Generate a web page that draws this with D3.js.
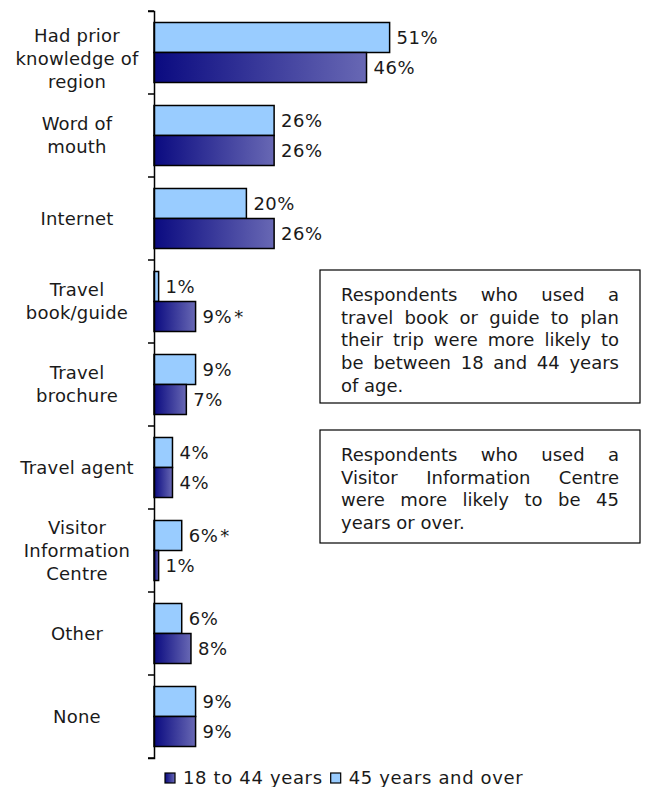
<!DOCTYPE html>
<html>
<head>
<meta charset="utf-8">
<script src="https://cdn.jsdelivr.net/npm/d3@7"></script>
<style>
  html, body { margin: 0; padding: 0; background: #fff; }
  svg { display: block; }
  text { font-family: "DejaVu Sans", Verdana, sans-serif; fill: #1a1a1a; }
</style>
</head>
<body>
<svg id="chart" width="646" height="787"></svg>
<script>
// ---- data ----
const categories = ["Had prior knowledge of region", "Word of mouth", "Internet", "Travel book/guide",
  "Travel brochure", "Travel agent", "Visitor Information Centre", "Other", "None"];
const categoryLines = [
  ["Had prior", "knowledge of", "region"],
  ["Word of", "mouth"],
  ["Internet"],
  ["Travel", "book/guide"],
  ["Travel", "brochure"],
  ["Travel agent"],
  ["Visitor", "Information", "Centre"],
  ["Other"],
  ["None"]
];
const seriesNames = ["45 years and over", "18 to 44 years"];
const over45 = [51, 26, 20, 1, 9, 4, 6, 6, 9];
const age18to44 = [46, 26, 26, 9, 7, 4, 1, 8, 9];
const over45Notes = ["", "", "", "", "", "", "*", "", ""];
const age18to44Notes = ["", "", "", "*", "", "", "", "", ""];
const legendItems = ["18 to 44 years", "45 years and over"];
const note1Lines = ["Respondents who used a", "travel book or guide to plan",
  "their trip were more likely to", "be between 18 and 44 years", "of age."];
const note2Lines = ["Respondents who used a", "Visitor Information Centre",
  "were more likely to be 45", "years or over."];

// ---- layout ----
const svg = d3.select("#chart");
const axisX = 154, plotTop = 11, plotBottom = 758;
const fontSize = 18;

const y = d3.scaleBand().domain(categories).range([plotTop, plotBottom]).padding(0);
const ySub = d3.scaleBand().domain(seriesNames).range([0, y.bandwidth()]).paddingInner(0).paddingOuter(0.383);
const x = d3.scaleLinear().domain([0, 100]).range([axisX, axisX + 462]);

const defs = svg.append("defs");
const grad = defs.append("linearGradient").attr("id", "darkGrad")
  .attr("x1", "0%").attr("x2", "100%").attr("y1", "0%").attr("y2", "0%");
grad.append("stop").attr("offset", "0%").attr("stop-color", "#0a0a80");
grad.append("stop").attr("offset", "100%").attr("stop-color", "#6868b4");

const colors = { "45 years and over": "#99ccff", "18 to 44 years": "url(#darkGrad)" };

const rows = categories.map((c, i) => ({
  cat: c,
  vals: [
    { s: "45 years and over", v: over45[i], note: over45Notes[i] },
    { s: "18 to 44 years", v: age18to44[i], note: age18to44Notes[i] }
  ]
}));

const groups = svg.append("g").selectAll("g").data(rows).join("g")
  .attr("transform", d => `translate(0,${y(d.cat)})`);

groups.selectAll("rect").data(d => d.vals).join("rect")
  .attr("x", x(0))
  .attr("y", d => ySub(d.s))
  .attr("width", d => x(d.v) - x(0))
  .attr("height", ySub.bandwidth())
  .attr("fill", d => colors[d.s])
  .attr("stroke", "#000")
  .attr("stroke-width", 1.5);

const vl = groups.selectAll("text.val").data(d => d.vals).join("text")
  .attr("class", "val")
  .attr("x", d => x(d.v) + 7)
  .attr("y", d => ySub(d.s) + ySub.bandwidth() / 2)
  .attr("dy", "0.36em")
  .attr("font-size", fontSize)
  .attr("letter-spacing", 0.5);
vl.append("tspan").text(d => d.v + "%");
vl.filter(d => d.note).append("tspan").attr("dx", 2).text(d => d.note);

// axis
const axis = d3.axisLeft(y).tickSize(6).tickSizeOuter(6).tickFormat("");
const axisG = svg.append("g").attr("transform", `translate(${axisX},0)`).call(axis);
axisG.selectAll(".tick").remove();
const boundaries = categories.map(c => y(c)).concat([plotBottom]);
axisG.select(".domain").attr("stroke", "#000").attr("stroke-width", 1.5);
axisG.selectAll("line.bnd").data(boundaries).join("line").attr("class", "bnd")
  .attr("x1", -6).attr("x2", 0).attr("y1", d => d).attr("y2", d => d)
  .attr("stroke", "#000").attr("stroke-width", 1.5);

// category labels
const lh = 23;
categoryLines.forEach((lines, i) => {
  const cy = y(categories[i]) + y.bandwidth() / 2;
  let first = cy - (lines.length - 1) * lh / 2;
  first = Math.max(first, 36);
  const t = svg.append("text").attr("text-anchor", "middle").attr("font-size", fontSize)
    .attr("letter-spacing", 0.2);
  lines.forEach((ln, j) => {
    t.append("tspan").attr("x", 77).attr("y", first + j * lh).attr("dy", "0.36em").text(ln);
  });
});

// note boxes with justified text
function noteBox(x0, y0, w, h, lines) {
  const g = svg.append("g");
  g.append("rect").attr("x", x0).attr("y", y0).attr("width", w).attr("height", h)
    .attr("fill", "#fff").attr("stroke", "#000").attr("stroke-width", 1.2);
  const left = x0 + 21, right = x0 + w - 21;
  lines.forEach((ln, j) => {
    const by = y0 + 31 + j * 22.7;
    const words = ln.split(" ");
    const last = j === lines.length - 1;
    const nodes = words.map(wd => g.append("text").attr("font-size", fontSize).attr("y", by).text(wd));
    const widths = nodes.map(n => n.node().getComputedTextLength());
    const total = d3.sum(widths);
    const gap = (!last && words.length > 1) ? (right - left - total) / (words.length - 1) : fontSize * 0.318;
    let cx = left;
    nodes.forEach((n, k) => { n.attr("x", cx); cx += widths[k] + gap; });
  });
}
noteBox(320, 270, 320, 133, note1Lines);
noteBox(320, 430, 320, 113, note2Lines);

// legend
const legendFill = { "18 to 44 years": "url(#darkGrad)", "45 years and over": "#99ccff" };
const lg = svg.append("g");
let lx = 165;
legendItems.forEach(name => {
  lg.append("rect").attr("x", lx).attr("y", 773).attr("width", 10).attr("height", 10)
    .attr("fill", legendFill[name]).attr("stroke", "#000").attr("stroke-width", 1.2);
  const t = lg.append("text").attr("x", lx + 18).attr("y", 778).attr("dy", "0.36em")
    .attr("font-size", fontSize).attr("letter-spacing", 0.65).text(name);
  lx += 18 + t.node().getComputedTextLength() + 8;
});
</script>
</body>
</html>
